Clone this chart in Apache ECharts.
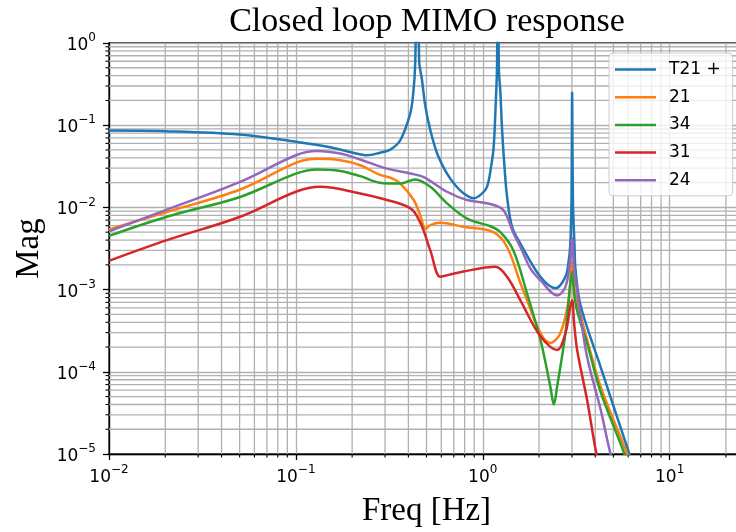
<!DOCTYPE html>
<html>
<head>
<meta charset="utf-8">
<script src="https://cdn.jsdelivr.net/npm/echarts@6/dist/echarts.min.js"></script>
<style>
  html, body { margin: 0; padding: 0; background: #ffffff; }
  #chart { width: 736px; height: 532px; }
</style>
</head>
<body>
<div id="chart"></div>
<script>
// Closed-loop MIMO magnitude responses (frequency in Hz, magnitude linear)
const freqT21 = [0.01, 0.02, 0.05, 0.1, 0.15, 0.2, 0.24, 0.28, 0.32, 0.362, 0.409, 0.425, 0.435, 0.448, 0.457, 0.473, 0.493, 0.524, 0.571, 0.644, 0.713, 0.791, 0.894, 0.983, 1.054, 1.11, 1.144, 1.175, 1.193, 1.202, 1.219, 1.243, 1.269, 1.306, 1.349, 1.436, 1.59, 2.035, 2.45, 2.77, 2.88, 2.94, 2.984, 3.008, 3.038, 3.096, 3.133, 3.333, 4.27, 6.09, 7.0];
const magT21 = [0.086, 0.0845, 0.077, 0.063, 0.0544, 0.0465, 0.043, 0.046, 0.0505, 0.0656, 0.138, 0.25, 0.56, 30, 0.6, 0.355, 0.17, 0.087, 0.045, 0.0257, 0.0186, 0.0148, 0.0129, 0.0145, 0.0178, 0.032, 0.0544, 0.2, 0.56, 30, 0.5, 0.25, 0.087, 0.032, 0.0135, 0.00575, 0.00363, 0.00143, 0.00104, 0.00143, 0.0022, 0.0035, 0.012, 0.25, 0.012, 0.0035, 0.0018, 0.00065, 0.000115, 0.00001, 0.000004];

const freq21 = [0.01, 0.0204, 0.0503, 0.1, 0.13, 0.173, 0.221, 0.28, 0.32, 0.362, 0.427, 0.465, 0.493, 0.524, 0.593, 0.787, 1.14, 1.349, 1.59, 1.727, 2.035, 2.30, 2.60, 2.88, 3.008, 3.08, 3.17, 3.33, 3.62, 4.27, 5.93, 7.0];
const mag21 = [0.0054, 0.0088, 0.0165, 0.0348, 0.039, 0.0375, 0.0326, 0.025, 0.023, 0.0195, 0.0123, 0.0078, 0.0055, 0.0061, 0.0065, 0.0058, 0.005, 0.0033, 0.0012, 0.00074, 0.000295, 0.000224, 0.000295, 0.00074, 0.0022, 0.0011, 0.00075, 0.0005, 0.000245, 0.000066, 0.00001, 0.0000035];

const freq34 = [0.01, 0.0204, 0.0503, 0.1, 0.13, 0.173, 0.221, 0.28, 0.362, 0.435, 0.524, 0.644, 0.824, 1.098, 1.243, 1.458, 1.727, 2.035, 2.30, 2.40, 2.50, 2.77, 2.94, 3.008, 3.08, 3.17, 3.33, 3.62, 4.27, 5.73, 7.0];
const mag34 = [0.0045, 0.0077, 0.0134, 0.0258, 0.029, 0.0278, 0.024, 0.02, 0.0195, 0.0219, 0.0178, 0.0112, 0.0073, 0.0059, 0.005, 0.003, 0.00089, 0.000245, 0.000066, 0.00004, 0.000066, 0.000295, 0.0012, 0.00165, 0.0009, 0.0006, 0.0004, 0.00022, 0.000057, 0.00001, 0.0000025];

const freq31 = [0.01, 0.0204, 0.0503, 0.1, 0.135, 0.221, 0.28, 0.409, 0.465, 0.524, 0.593, 0.65, 0.787, 1.168, 1.349, 1.59, 2.035, 2.50, 2.77, 2.94, 3.008, 3.08, 3.2, 3.62, 4.06, 4.6];
const mag31 = [0.00224, 0.004, 0.0077, 0.0155, 0.0178, 0.0148, 0.013, 0.0098, 0.0064, 0.003, 0.00143, 0.0015, 0.00166, 0.0019, 0.00143, 0.00074, 0.00027, 0.000184, 0.000295, 0.00062, 0.00074, 0.0004, 0.000184, 0.000045, 0.00001, 0.000003];

const freq24 = [0.01, 0.0204, 0.0503, 0.1, 0.13, 0.173, 0.221, 0.28, 0.32, 0.409, 0.483, 0.644, 0.824, 1.098, 1.289, 1.458, 1.59, 1.80, 2.035, 2.50, 2.77, 2.94, 3.008, 3.08, 3.17, 3.33, 3.62, 4.27, 4.83, 5.46];
const mag24 = [0.0051, 0.0094, 0.0204, 0.0431, 0.0486, 0.0452, 0.0382, 0.0316, 0.029, 0.0258, 0.0234, 0.0155, 0.0123, 0.011, 0.0093, 0.0049, 0.0033, 0.0018, 0.0013, 0.00085, 0.00108, 0.0023, 0.0042, 0.0018, 0.00112, 0.0005, 0.00015, 0.000035, 0.00001, 0.000004];

const seriesNames = ['T21 +', '21', '34', '31', '24'];
const seriesColors = ['#1f77b4', '#ff7f0e', '#2ca02c', '#d62728', '#9467bd'];
const seriesFreqs = [freqT21, freq21, freq34, freq31, freq24];
const seriesMags = [magT21, mag21, mag34, mag31, mag24];

// Axis ranges
const X_MIN = 0.01, X_MAX = 25;
const Y_MIN = 1e-5, Y_MAX = 1;

// Minor log ticks (2..9 x decade)
function minorLogValues(lo, hi) {
  const out = [];
  for (let d = Math.floor(Math.log10(lo)); d <= Math.ceil(Math.log10(hi)); d++) {
    for (let k = 2; k <= 9; k++) {
      const v = k * Math.pow(10, d);
      if (v > lo && v < hi) out.push(v);
    }
  }
  return out;
}
const minorX = minorLogValues(X_MIN, X_MAX);
const minorY = minorLogValues(Y_MIN, Y_MAX);

const MINUS = '\u2212';
function powLabel(value) {
  const e = Math.log10(value);
  const r = Math.round(e);
  if (Math.abs(e - r) > 1e-6) return '';
  const exp = r < 0 ? MINUS + Math.abs(r) : String(r);
  return '{b|10}{s|' + exp + '}';
}
const tickRich = {
  b: { fontFamily: 'DejaVu Sans', fontSize: 17, color: '#000', verticalAlign: 'bottom', lineHeight: 22 },
  s: { fontFamily: 'DejaVu Sans', fontSize: 12, color: '#000', verticalAlign: 'top', lineHeight: 22 }
};

const gridColor = '#b0b0b0';
const gridWidth = 1.3;

function renderMinorGrid(params, api) {
  const children = [];
  const gridStyle = { stroke: gridColor, lineWidth: gridWidth, fill: null };
  const tickStyle = { stroke: '#000', lineWidth: 1.1, fill: null };
  minorX.forEach(function (v) {
    const a = api.coord([v, Y_MIN]);
    const b = api.coord([v, Y_MAX]);
    children.push({ type: 'line', shape: { x1: a[0], y1: a[1], x2: b[0], y2: b[1] }, style: gridStyle });
    children.push({ type: 'line', shape: { x1: a[0], y1: a[1], x2: a[0], y2: a[1] + 3.5 }, style: tickStyle });
  });
  minorY.forEach(function (v) {
    const a = api.coord([X_MIN, v]);
    const b = api.coord([X_MAX, v]);
    children.push({ type: 'line', shape: { x1: a[0], y1: a[1], x2: b[0], y2: b[1] }, style: gridStyle });
    children.push({ type: 'line', shape: { x1: a[0] - 3.5, y1: a[1], x2: a[0], y2: a[1] }, style: tickStyle });
  });
  return { type: 'group', children: children };
}

const lineSeries = seriesNames.map(function (name, i) {
  const f = seriesFreqs[i], m = seriesMags[i];
  return {
    name: name,
    type: 'line',
    data: f.map(function (x, j) { return [x, m[j]]; }),
    showSymbol: false,
    symbol: 'none',
    smooth: 0.35,
    clip: true,
    z: 3,
    color: seriesColors[i],
    lineStyle: { color: seriesColors[i], width: 2.5 }
  };
});

const chart = echarts.init(document.getElementById('chart'), null, { renderer: 'canvas' });
chart.setOption({
  animation: false,
  backgroundColor: '#ffffff',
  title: {
    text: 'Closed loop MIMO response',
    left: 427,
    top: 5,
    textAlign: 'center',
    padding: 0,
    textStyle: { fontFamily: 'Liberation Serif', fontSize: 34, fontWeight: 'normal', color: '#000' }
  },
  grid: {
    left: 109,
    top: 43,
    width: 635,
    height: 411,
    show: true,
    borderColor: '#000',
    borderWidth: 1.3,
    backgroundColor: 'transparent',
    containLabel: false,
    outerBoundsMode: 'none'
  },
  legend: {
    data: seriesNames,
    orient: 'vertical',
    left: 609,
    top: 53,
    icon: 'rect',
    itemWidth: 41,
    itemHeight: 2.5,
    itemGap: 10.7,
    padding: [8, 12, 7, 6],
    backgroundColor: 'rgba(255,255,255,0.8)',
    borderColor: '#cccccc',
    borderWidth: 1,
    borderRadius: 4,
    textStyle: { fontFamily: 'DejaVu Sans', fontSize: 17, color: '#000', padding: [0, 0, 0, 8] }
  },
  xAxis: {
    type: 'log',
    logBase: 10,
    min: X_MIN,
    max: X_MAX,
    name: 'Freq [Hz]',
    nameLocation: 'middle',
    nameGap: 41,
    nameTextStyle: { fontFamily: 'Liberation Serif', fontSize: 33, color: '#000' },
    axisLine: { show: true, lineStyle: { color: '#000', width: 1.3 } },
    axisTick: { show: true, inside: false, length: 6, lineStyle: { color: '#000', width: 1.3 } },
    axisLabel: { show: true, margin: 10, formatter: powLabel, rich: tickRich, showMinLabel: true, showMaxLabel: true, hideOverlap: false },
    splitLine: { show: true, lineStyle: { color: gridColor, width: gridWidth } },
    minorTick: { show: false },
    minorSplitLine: { show: false }
  },
  yAxis: {
    type: 'log',
    logBase: 10,
    min: Y_MIN,
    max: Y_MAX,
    name: 'Mag',
    nameLocation: 'middle',
    nameGap: 62,
    nameRotate: 90,
    nameTextStyle: { fontFamily: 'Liberation Serif', fontSize: 33, color: '#000' },
    axisLine: { show: true, lineStyle: { color: '#000', width: 1.3 } },
    axisTick: { show: true, inside: false, length: 6, lineStyle: { color: '#000', width: 1.3 } },
    axisLabel: { show: true, margin: 13, formatter: powLabel, rich: tickRich, showMinLabel: true, showMaxLabel: true, hideOverlap: false },
    splitLine: { show: true, lineStyle: { color: gridColor, width: gridWidth } },
    minorTick: { show: false },
    minorSplitLine: { show: false }
  },
  series: [{
    type: 'custom',
    name: 'minor-grid',
    silent: true,
    clip: false,
    z: 1,
    data: [[1, 1e-3]],
    renderItem: renderMinorGrid
  }].concat(lineSeries)
});
</script>
</body>
</html>
